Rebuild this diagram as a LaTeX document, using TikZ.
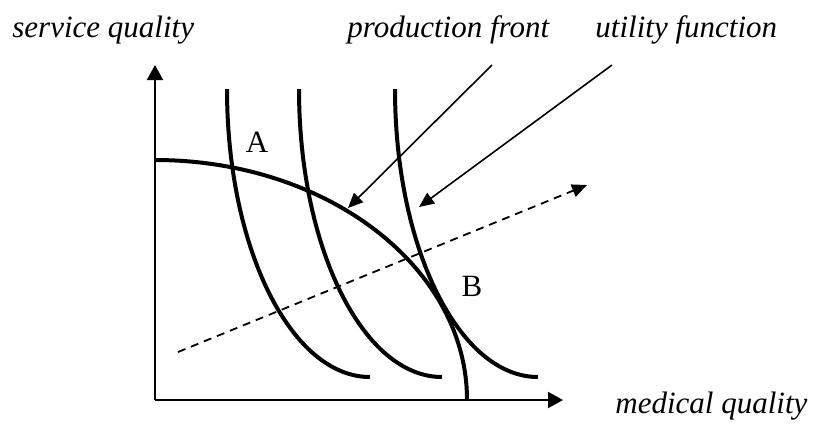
\documentclass[tikz,border=0pt]{standalone}
\usepackage{fontspec}
\setmainfont{Liberation Serif}
\usetikzlibrary{arrows.meta, positioning}
\tikzset{
  axis/.style={line width=1pt, -{Triangle[length=7.5pt, width=8pt]}},
  front/.style={line width=2pt},
  indiff/.style={line width=2pt},
  pointer/.style={line width=0.8pt, -{Triangle[length=7.5pt, width=6.5pt]}},
  ray/.style={line width=0.9pt, dash pattern=on 4pt off 3pt,
              -{Triangle[length=7.5pt, width=6.5pt]}},
  lbl/.style={font=\fontsize{15.5}{18}\selectfont\itshape,
              inner sep=0pt, anchor=base west},
  pt/.style={font=\fontsize{15.5}{18}\selectfont, inner sep=0pt},
}
\begin{document}
\begin{tikzpicture}[x=0.5pt, y=-0.5pt]
  \useasboundingbox (0,0) rectangle (817,425);
  % axes
  \coordinate (O) at (155,400);
  \coordinate (ytip) at (155,65);
  \coordinate (xtip) at (563,400);
  \draw[axis] (O) -- (ytip);
  \draw[axis] (O) -- (xtip);
  % production front
  \draw[front] (155,160) arc[start angle=90, end angle=0,
                             x radius=156pt, y radius=120pt];
  % utility curves
  \foreach \sx in {227,299,395}
    \draw[indiff] (\sx,89) arc[start angle=180, end angle=270,
                               x radius=71.5pt, y radius=144pt];
  % labels
  \node[lbl] (sq) at (12,37) {service quality};
  \node[lbl] (pf) at (347,37) {production front};
  \node[lbl] (uf) at (595,37) {utility function};
  \node[lbl] (mq) at (615,413) {medical quality};
  \node[pt] (A) at (257,142) {A};
  \node[pt] (B) at (472,286) {B};
  % pointers
  \coordinate (pf-from) at (492,65);
  \coordinate (pf-to) at (348,208);
  \coordinate (uf-from) at (612,65);
  \coordinate (uf-to) at (419,207);
  \draw[pointer] (pf-from) -- (pf-to);
  \draw[pointer] (uf-from) -- (uf-to);
  % expansion path
  \coordinate (ray-from) at (178,352);
  \coordinate (ray-to) at (587,185);
  \draw[ray] (ray-from) -- (ray-to);
\end{tikzpicture}
\end{document}
